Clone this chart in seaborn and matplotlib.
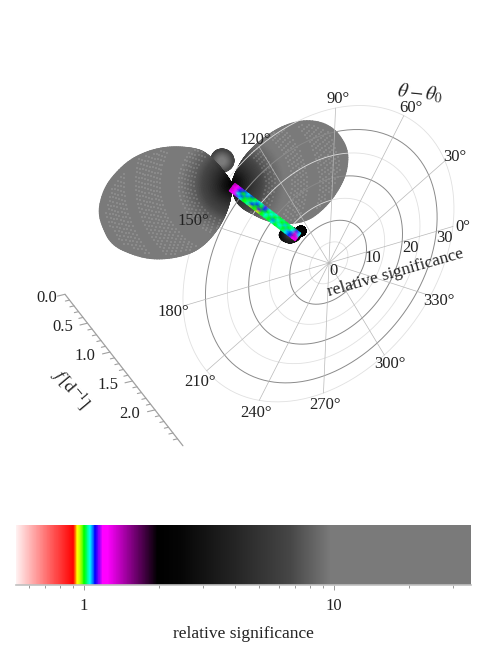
import numpy as np
import pandas as pd
import seaborn as sns
import matplotlib.pyplot as plt
from matplotlib.colors import LinearSegmentedColormap, LogNorm
from matplotlib.ticker import LogLocator, NullFormatter, FuncFormatter

sns.set_theme(style='white')
plt.rcParams['font.family'] = ['Liberation Serif', 'DejaVu Serif']
plt.rcParams['mathtext.fontset'] = 'stix'

# colour scale
scale_sig = [0.534, 0.904, 0.938, 0.97, 1.0, 1.057, 1.107, 1.18, 1.236, 1.96, 2.42, 3.94, 6.67, 9.7, 35.3]
scale_col = ['#fff0f0', '#ff0000', '#ffff00', '#a0ff00', '#00ff00', '#00ffff', '#0000ff', '#ff00ff', '#ff00ff',
             '#000000', '#050505', '#232323', '#464646', '#7a7a7a', '#7a7a7a']

# polar grid
light_rings = [5, 15, 25, 35]
dark_rings = [10, 20, 30]
spoke_angles = [0, 30, 60, 90, 120, 150, 180, 210, 240, 270, 300, 330]
ring_ticks = [0, 10, 20, 30]

# lobes: outline radius against direction, and significance against distance
left_angle = [122, 129, 143.7, 166.4, 181.4, 192.3, 206.4, 221.7, 243, 259, 268]
left_radius = [0, 40, 62, 104, 127, 137, 135, 112, 73, 28, 0]
right_angle = [76, 70, 56.3, 47, 38.3, 29, 16.6, 5.7, -9.6, -25.6, -38.7, -55, -78, -86]
right_radius = [0, 17, 52, 82, 103, 116, 121, 115, 100, 84, 63, 36, 16, 0]
lobe_dist = [0, 8, 20, 35, 55, 140]
lobe_sig = [2.2, 3.0, 5.0, 7.5, 10.0, 30.0]
blob_angle = [0, 60, 120, 180, 240, 300, 360]
top_blob_radius = [12, 12, 12, 11, 11, 11, 12]
end_blob_radius = [11, 8, 8, 11, 8, 8, 11]
tip_blob_radius = [5, 5, 5, 5, 5, 5, 5]

# ridge values along the stripe
ridge_sig = [
    [1.3, 1.25, 1.15, 1.06, 1.0, 1.04, 0.97, 1.0, 0.94, 1.0, 1.03, 1.0, 1.05, 1.0, 1.02, 1.02, 1.05, 1.1, 1.2, 1.3],
    [1.4, 1.2, 1.05, 1.09, 1.0, 1.03, 1.1, 1.0, 1.14, 1.0, 1.06, 1.0, 1.08, 1.02, 1.06, 1.0, 1.07, 1.1, 1.4, 1.25],
    [1.35, 1.2, 1.1, 1.0, 1.08, 1.0, 1.04, 1.1, 1.0, 1.1, 1.0, 1.06, 1.0, 1.05, 1.0, 1.07, 1.0, 1.06, 1.3, 1.06],
    [1.5, 1.25, 1.15, 1.1, 1.06, 1.1, 1.0, 1.06, 1.04, 1.14, 1.05, 1.02, 1.06, 1.0, 1.03, 1.0, 1.04, 1.02, 1.1, 1.05],
]

# frequency axis
freq_major = [0.0, 0.5, 1.0, 1.5, 2.0]
freq_labels = ['0.0', '0.5', '1.0', '1.5', '2.0']
freq_minor = [0.1, 0.2, 0.3, 0.4, 0.6, 0.7, 0.8, 0.9, 1.1, 1.2, 1.3, 1.4, 1.6, 1.7, 1.8, 1.9, 2.1, 2.2, 2.3, 2.4, 2.5]
freq_end = 2.62

cmap = LinearSegmentedColormap.from_list(
    'signif', [(np.log(s / scale_sig[0]) / np.log(scale_sig[-1] / scale_sig[0]), c) for s, c in zip(scale_sig, scale_col)], N=1024)
norm = LogNorm(scale_sig[0], scale_sig[-1])

fig = plt.figure(figsize=(4.9, 6.55), dpi=100)
ax = fig.add_axes([0, 0, 1, 1])
ax.set_xlim(0, 490)
ax.set_ylim(655, 0)
ax.axis('off')

# tilted plane of the polar grid, seen in perspective
def project(r, deg):
    u = np.asarray(r) / 35.0 * np.cos(np.radians(deg))
    v = np.asarray(r) / 35.0 * np.sin(np.radians(deg))
    w = 1 + 0.0815 * u - 0.0876 * v
    return 329 + (134 * u + 6 * v) / w, 263 + (-39.5 * u - 141.4 * v) / w

def rings(radii):
    frames = []
    deg = np.linspace(0, 360, 241)
    for r in radii:
        x, y = project(r, deg)
        frames.append(pd.DataFrame({'x': x, 'y': y, 'id': r}))
    return pd.concat(frames)

def draw_lines(df, color, lw, z):
    sns.lineplot(data=df, x='x', y='y', units='id', estimator=None, sort=False,
                 color=color, linewidth=lw, ax=ax, zorder=z, legend=False)

def lobe_mesh(cx, cy, angle, radius, dist, sig, z):
    order = np.argsort(angle)
    fine = np.linspace(min(angle), max(angle), 150)
    rad = np.interp(fine, np.array(angle)[order], np.array(radius)[order])
    rad = np.convolve(np.pad(rad, 4, mode='edge'), np.ones(9) / 9, mode='valid')
    frac = np.linspace(0, 1, 60)
    th, fr = np.meshgrid(np.radians(fine), frac)
    d = fr * rad
    x = cx + d * np.cos(th)
    y = cy - d * np.sin(th)
    ax.pcolormesh(x, y, np.interp(d, dist, sig), cmap=cmap, norm=norm, shading='gouraud', zorder=z, rasterized=True)
    return fine, rad

def streaks(cx, cy, fine, rad, bands, z):
    xs, ys = [], []
    for lo, hi in bands:
        for k, d in enumerate(np.arange(lo, hi, 3.0)):
            step = 4.5 / d
            for a in np.arange(np.radians(fine[0]) + k * step / 2, np.radians(fine[-1]), step):
                if d < 0.95 * np.interp(np.degrees(a), fine, rad):
                    xs.append(cx + d * np.cos(a))
                    ys.append(cy - d * np.sin(a))
    sns.scatterplot(x=xs, y=ys, marker='s', s=3.5, color='white', alpha=0.12, linewidth=0, ax=ax, zorder=z, legend=False)

# right lobe sits behind the grid, left lobe in front of it
f, r = lobe_mesh(232, 184, right_angle, right_radius, lobe_dist, lobe_sig, 1)
streaks(232, 184, f, r, [(34, 46), (60, 76), (88, 112)], 1.1)

draw_lines(rings(light_rings), '#e0e0e0', 0.6, 2)
draw_lines(rings(dark_rings), '#8a8a8a', 0.7, 2.1)
spokes = pd.concat([pd.DataFrame({'x': project(np.array([0, 35]), a)[0], 'y': project(np.array([0, 35]), a)[1], 'id': a})
                    for a in spoke_angles])
draw_lines(spokes, '#b8b8b8', 0.5, 2.2)

lobe_mesh(222, 161, blob_angle, top_blob_radius, [0, 6, 12], [11, 9, 6.5], 2.5)
f, r = lobe_mesh(232, 184, left_angle, left_radius, lobe_dist, lobe_sig, 3)
streaks(232, 184, f, r, [(38, 54), (72, 98), (108, 132)], 3.1)

# ridge and the small lobes at its far end
lobe_mesh(301, 231, blob_angle, tip_blob_radius, [0, 5], [2.4, 2.0], 4)
lobe_mesh(290, 235, blob_angle, end_blob_radius, [0, 6, 12], [7, 4, 2.2], 4.1)
grid_t, grid_s = np.meshgrid(np.linspace(0, 1, len(ridge_sig[0])), np.linspace(-0.5, 0.5, len(ridge_sig)))
ridge_x = 232 + 66 * grid_t + 5.7 * grid_s
ridge_y = 187 + 50 * grid_t - 7.6 * grid_s
ax.pcolormesh(ridge_x, ridge_y, np.array(ridge_sig), cmap=cmap, norm=norm, shading='gouraud', zorder=5)

# frequency axis
def freq_xy(v):
    v = np.asarray(v, dtype=float)
    return 65 + 45 * v, 294.3 + 57.8 * v

fx, fy = freq_xy([0, freq_end])
sns.lineplot(x=fx, y=fy, sort=False, estimator=None, color='#a0a0a0', linewidth=0.9, ax=ax)
ticks = []
for v in freq_major + freq_minor:
    tx, ty = freq_xy(v)
    size = 1.0 if v in freq_major else 0.55
    ticks.append(pd.DataFrame({'x': [tx, tx - 7.5 * size], 'y': [ty, ty + 1.8 * size], 'id': v}))
draw_lines(pd.concat(ticks), '#a0a0a0', 0.8, 2)
for v, s in zip(freq_major, freq_labels):
    tx, ty = freq_xy(v)
    ax.text(tx - (18 if v == 0 else 25), ty + 4, s, fontsize=12, color='#222222', ha='center', va='center')
ax.text(70, 390, r'$f\,[\mathrm{d}^{-1}]$', fontsize=13, rotation=-50, ha='center', va='center', color='#222222')

# grid labels
for a in spoke_angles:
    x, y = project(37.5, a)
    ax.text(x + 2, y + 3, '%d°' % a, fontsize=12, color='#222222', ha='center', va='center', zorder=6)
for v, px, py in zip(ring_ticks, [333, 373, 410, 444], [271, 258, 248, 238]):
    ax.text(px, py, str(v), fontsize=12, color='#222222', ha='center', va='center', zorder=6)
ax.text(396, 273, 'relative significance', fontsize=12.5, rotation=16, color='#222222', ha='center', va='center', zorder=6)
ax.text(420, 93, r'$\theta-\theta_0$', fontsize=14, rotation=-6, color='#222222', ha='center', va='center', zorder=6)

# colour bar
cax = fig.add_axes([16 / 490, 1 - 585 / 655, 455 / 490, 60 / 655])
edges = np.geomspace(scale_sig[0], scale_sig[-1], 900)
cax.pcolormesh(edges, [0, 1], np.sqrt(edges[:-1] * edges[1:])[None, :], cmap=cmap, norm=norm)
cax.set_xscale('log')
cax.set_xlim(scale_sig[0], scale_sig[-1])
cax.set_ylim(0, 1)
cax.set_yticks([])
sns.despine(ax=cax, left=True, top=True, right=True)
cax.spines['bottom'].set_color('#c0c0c0')
cax.spines['bottom'].set_linewidth(1.2)
cax.xaxis.set_major_locator(LogLocator(base=10, numticks=5))
cax.xaxis.set_minor_locator(LogLocator(base=10, subs=np.arange(2, 10), numticks=5))
cax.xaxis.set_major_formatter(FuncFormatter(lambda v, _: '%d' % v))
cax.xaxis.set_minor_formatter(NullFormatter())
cax.tick_params(axis='x', which='major', bottom=True, length=3.5, width=0.6, color='#888888', labelsize=12, labelcolor='#222222', pad=6)
cax.tick_params(axis='x', which='minor', bottom=True, length=2.5, width=0.6, color='#888888')
fig.text(243 / 490, 1 - 634 / 655, 'relative significance', fontsize=12.5, color='#222222', ha='center', va='center')

fig.savefig('out.png', dpi=100)
